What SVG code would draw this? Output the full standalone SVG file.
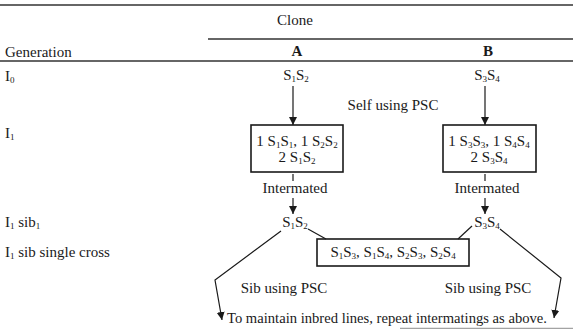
<svg xmlns="http://www.w3.org/2000/svg" width="573" height="329" viewBox="0 0 573 329">
  <defs>
    <style>
      text { font-family: "Liberation Serif", "Times New Roman", serif; font-size: 15px; fill: #1a1a1a; }
      .c { text-anchor: middle; }
      .b { font-weight: bold; }
      .s { font-size: 9px; }
      .rule { stroke: #333; stroke-width: 1.3; fill: none; }
      .box { fill: #fff; stroke: #1a1a1a; stroke-width: 1.6; }
      .edge { stroke: #1a1a1a; stroke-width: 1.2; fill: none; }
    </style>
    <marker id="arr" viewBox="0 0 8 12" refX="8" refY="6" markerWidth="8" markerHeight="12" markerUnits="userSpaceOnUse" orient="auto">
      <path d="M0,2 L8,6 L0,10 Z" fill="#1a1a1a"/>
    </marker>
  </defs>

  <!-- table rules -->
  <g id="rules">
    <line class="rule" x1="0" y1="5" x2="573" y2="5"/>
    <line class="rule" x1="208" y1="39" x2="573" y2="39"/>
    <line class="rule" x1="0" y1="61" x2="573" y2="61"/>
    <line class="rule" x1="400" y1="328.5" x2="573" y2="328.5" stroke-opacity="0.45"/>
  </g>

  <!-- column headings -->
  <g id="header">
    <text class="c" x="295" y="25">Clone</text>
    <text x="5" y="57">Generation</text>
    <text class="c b" x="297" y="56">A</text>
    <text class="c b" x="488" y="56">B</text>
  </g>

  <!-- generation labels -->
  <g id="gen-labels">
    <text x="5" y="81">I<tspan class="s" dy="2">0</tspan></text>
    <text x="5" y="138">I<tspan class="s" dy="2">1</tspan></text>
    <text x="5" y="227">I<tspan class="s" dy="2">1</tspan><tspan dy="-2"> sib</tspan><tspan class="s" dy="2">1</tspan></text>
    <text x="5" y="257">I<tspan class="s" dy="2">1</tspan><tspan dy="-2"> sib single cross</tspan></text>
  </g>

  <!-- clone A -->
  <g id="a-i0">
    <text class="c" x="296" y="80">S<tspan class="s" dy="2">1</tspan><tspan dy="-2">S</tspan><tspan class="s" dy="2">2</tspan></text>
  </g>
  <g id="a-i1">
    <rect class="box" x="251" y="125" width="92" height="47"/>
    <text class="c" x="297" y="146">1 S<tspan class="s" dy="2">1</tspan><tspan dy="-2">S</tspan><tspan class="s" dy="2">1</tspan><tspan dy="-2">, 1 S</tspan><tspan class="s" dy="2">2</tspan><tspan dy="-2">S</tspan><tspan class="s" dy="2">2</tspan></text>
    <text class="c" x="297" y="162">2 S<tspan class="s" dy="2">1</tspan><tspan dy="-2">S</tspan><tspan class="s" dy="2">2</tspan></text>
  </g>
  <g id="a-sib">
    <text class="c" x="295" y="227">S<tspan class="s" dy="2">1</tspan><tspan dy="-2">S</tspan><tspan class="s" dy="2">2</tspan></text>
  </g>

  <!-- clone B -->
  <g id="b-i0">
    <text class="c" x="487" y="80">S<tspan class="s" dy="2">3</tspan><tspan dy="-2">S</tspan><tspan class="s" dy="2">4</tspan></text>
  </g>
  <g id="b-i1">
    <rect class="box" x="443" y="125" width="93" height="47"/>
    <text class="c" x="489" y="146">1 S<tspan class="s" dy="2">3</tspan><tspan dy="-2">S</tspan><tspan class="s" dy="2">3</tspan><tspan dy="-2">, 1 S</tspan><tspan class="s" dy="2">4</tspan><tspan dy="-2">S</tspan><tspan class="s" dy="2">4</tspan></text>
    <text class="c" x="489" y="162">2 S<tspan class="s" dy="2">3</tspan><tspan dy="-2">S</tspan><tspan class="s" dy="2">4</tspan></text>
  </g>
  <g id="b-sib">
    <text class="c" x="487" y="227">S<tspan class="s" dy="2">3</tspan><tspan dy="-2">S</tspan><tspan class="s" dy="2">4</tspan></text>
  </g>

  <!-- single cross -->
  <g id="single-cross">
    <rect class="box" x="317" y="239" width="152" height="27"/>
    <text class="c" x="393" y="257">S<tspan class="s" dy="2">1</tspan><tspan dy="-2">S</tspan><tspan class="s" dy="2">3</tspan><tspan dy="-2">, S</tspan><tspan class="s" dy="2">1</tspan><tspan dy="-2">S</tspan><tspan class="s" dy="2">4</tspan><tspan dy="-2">, S</tspan><tspan class="s" dy="2">2</tspan><tspan dy="-2">S</tspan><tspan class="s" dy="2">3</tspan><tspan dy="-2">, S</tspan><tspan class="s" dy="2">2</tspan><tspan dy="-2">S</tspan><tspan class="s" dy="2">4</tspan></text>
  </g>

  <!-- connectors -->
  <g id="connectors">
    <line class="edge" x1="293" y1="86" x2="293" y2="125" marker-end="url(#arr)"/>
    <line class="edge" x1="485" y1="86" x2="485" y2="125" marker-end="url(#arr)"/>
    <line class="edge" x1="293" y1="174" x2="293" y2="181"/>
    <line class="edge" x1="485" y1="174" x2="485" y2="181"/>
    <line class="edge" x1="293" y1="198" x2="293" y2="214" marker-end="url(#arr)"/>
    <line class="edge" x1="485" y1="198" x2="485" y2="214" marker-end="url(#arr)"/>
    <line class="edge" x1="308" y1="229" x2="326" y2="239"/>
    <line class="edge" x1="472" y1="226" x2="458" y2="239"/>
    <polyline class="edge" points="281,231 215,280 222,320" marker-end="url(#arr)"/>
    <polyline class="edge" points="500,229 561,278 554,318" marker-end="url(#arr)"/>
  </g>

  <!-- edge labels -->
  <g id="labels">
    <text class="c" x="393" y="110">Self using PSC</text>
    <text class="c" x="295" y="193">Intermated</text>
    <text class="c" x="487" y="193">Intermated</text>
    <text class="c" x="284" y="293">Sib using PSC</text>
    <text class="c" x="488" y="293">Sib using PSC</text>
    <text x="227" y="323" textLength="320" lengthAdjust="spacingAndGlyphs">To maintain inbred lines, repeat intermatings as above.</text>
  </g>
</svg>
